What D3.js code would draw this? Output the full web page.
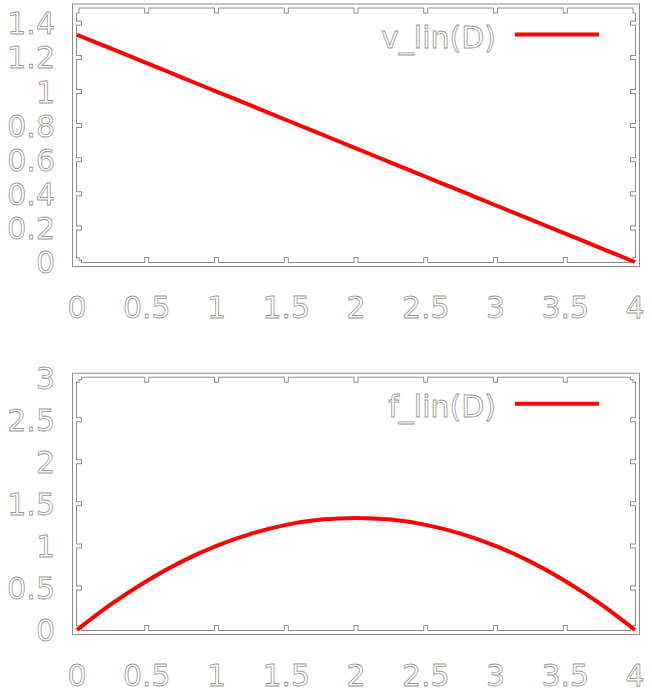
<!DOCTYPE html>
<html>
<head>
<meta charset="utf-8">
<script src="https://cdn.jsdelivr.net/npm/d3@7"></script>
<style>
  body { margin: 0; background: #fff; }
  text { font-family: "DejaVu Sans", sans-serif; font-size: 30px; fill: #fff; stroke: #9a958e; stroke-width: 0.8px; }
</style>
</head>
<body>
<div id="chart"></div>
<script>
// values
var D = [0, 0.25, 0.5, 0.75, 1, 1.25, 1.5, 1.75, 2, 2.25, 2.5, 2.75, 3, 3.25, 3.5, 3.75, 4]
var vLin = [1.333, 1.25, 1.167, 1.083, 1.0, 0.917, 0.833, 0.75, 0.667, 0.583, 0.5, 0.417, 0.333, 0.25, 0.167, 0.083, 0]
var fLin = [0, 0.313, 0.583, 0.813, 1.0, 1.146, 1.25, 1.313, 1.333, 1.313, 1.25, 1.146, 1.0, 0.813, 0.583, 0.313, 0]

var xTicks = [0, 0.5, 1, 1.5, 2, 2.5, 3, 3.5, 4]
var xTickLabels = ['0', '0.5', '1', '1.5', '2', '2.5', '3', '3.5', '4']
var vTicks = [0, 0.2, 0.4, 0.6, 0.8, 1, 1.2, 1.4]
var vTickLabels = ['0', '0.2', '0.4', '0.6', '0.8', '1', '1.2', '1.4']
var fTicks = [0, 0.5, 1, 1.5, 2, 2.5, 3]
var fTickLabels = ['0', '0.5', '1', '1.5', '2', '2.5', '3']

const width = 652
const height = 693

var svg = d3.select('#chart')
  .append('svg')
  .attr('width', width)
  .attr('height', height)

var x = d3.scaleLinear().domain([0, 4]).range([77, 635])

// draw one panel
function panel (top, bottom, ymax, ticks, tickLabels, values, name) {
  var y = d3.scaleLinear().domain([0, ymax]).range([bottom, top])
  var g = svg.append('g')
  var b = 2.5 // half of the hollow border band
  var tl = 5  // tick length

  var p = d3.path()
  p.rect(x(0) - b, top - b, x(4) - x(0) + 2 * b, bottom - top + 2 * b)
  xTicks.forEach(function (t) {
    p.moveTo(x(t), bottom + b); p.lineTo(x(t), bottom - tl + b)
    p.moveTo(x(t), top - b); p.lineTo(x(t), top + tl - b)
  })
  ticks.forEach(function (t) {
    p.moveTo(x(0) - b, y(t)); p.lineTo(x(0) + tl - b, y(t))
    p.moveTo(x(4) + b, y(t)); p.lineTo(x(4) - tl + b, y(t))
  })
  var pathStr = p.toString()

  // hollow look: wide gray stroke, narrower white on top
  g.append('path').attr('d', pathStr).attr('fill', 'none')
    .attr('stroke', '#8c8c8c').attr('stroke-width', 5).attr('stroke-linecap', 'square')
  g.append('path').attr('d', pathStr).attr('fill', 'none')
    .attr('stroke', '#fff').attr('stroke-width', 3).attr('stroke-linecap', 'square')

  g.selectAll('.ytl')
    .data(ticks)
    .enter().append('text')
    .attr('x', 55)
    .attr('y', function (d) { return y(d) + 11 })
    .attr('text-anchor', 'end')
    .text(function (d, i) { return tickLabels[i] })

  g.selectAll('.xtl')
    .data(xTicks)
    .enter().append('text')
    .attr('x', function (d) { return x(d) })
    .attr('y', bottom + 56)
    .attr('text-anchor', 'middle')
    .text(function (d, i) { return xTickLabels[i] })

  // legend
  g.append('text')
    .attr('x', 496)
    .attr('y', top + 39)
    .attr('text-anchor', 'end')
    .text(name)
  g.append('line')
    .attr('x1', 515).attr('x2', 599)
    .attr('y1', top + 26).attr('y2', top + 26)
    .attr('stroke', '#ff0000').attr('stroke-width', 4)

  var line = d3.line()
    .x(function (d, i) { return x(D[i]) })
    .y(function (d) { return y(d) })
    .curve(d3.curveMonotoneX)

  g.append('path')
    .datum(values)
    .attr('d', line)
    .attr('fill', 'none')
    .attr('stroke', '#ff0000')
    .attr('stroke-width', 4)
}

panel(8.5, 262, 1.487, vTicks, vTickLabels, vLin, 'v_lin(D)')
panel(377.7, 630, 3, fTicks, fTickLabels, fLin, 'f_lin(D)')
</script>
</body>
</html>
